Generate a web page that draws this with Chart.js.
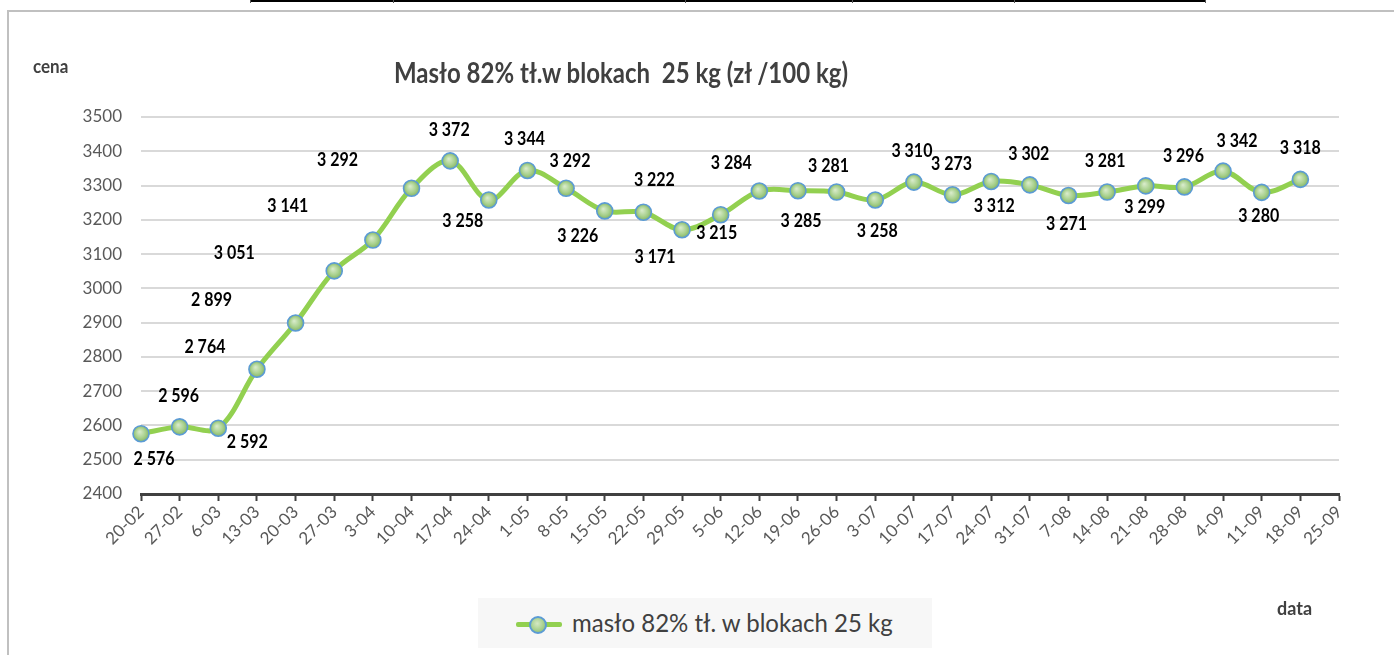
<!DOCTYPE html>
<html>
<head>
<meta charset="utf-8">
<script src="https://cdn.jsdelivr.net/npm/chart.js@4.4.0/dist/chart.umd.min.js"></script>
<style>
  html, body { margin:0; padding:0; background:#fff; }
  body { width:1394px; height:655px; position:relative; overflow:hidden; font-family: Lato, "Liberation Sans", sans-serif; }
  #wrap { position:absolute; left:0; top:0; width:1394px; height:655px; }
  .frame { position:absolute; left:7px; top:10px; width:1400px; height:700px; border-top:2px solid #c0c0c0; border-left:2px solid #c0c0c0; }
  .tline { position:absolute; top:0; height:2px; background:#000; }
  .tsep { position:absolute; top:0; width:1px; height:3px; background:#555; }
  #title { position:absolute; left:0; width:1242px; top:57px; text-align:center; font-weight:700; font-size:24px; color:#404040; white-space:pre; transform:scaleY(1.18); transform-origin:50% 50%; }
  #ylab { position:absolute; left:33px; top:55px; font-weight:700; font-size:17px; color:#404040; transform:scaleY(1.1); }
  #xlab { position:absolute; left:1277px; top:596px; font-weight:700; font-size:18px; color:#404040; transform:scaleY(1.1); }
  #legend { position:absolute; left:478px; top:598px; width:454px; height:50px; background:#f7f7f7; }
  #legend .ln { position:absolute; left:38px; top:24px; width:46px; height:5px; background:#92d050; border-radius:2px; }
  #legend .mk { position:absolute; left:51px; top:18px; width:14px; height:14px; border-radius:50%; border:2px solid #5b9bd5; background: radial-gradient(circle at 45% 40%, #d4e8c4 0%, #a9d18e 55%, #86b666 100%); }
  #legend .tx { position:absolute; left:94px; top:9px; font-size:24px; color:#404040; white-space:nowrap; transform:scaleY(1.08); transform-origin:0 50%; }
  canvas { position:absolute; left:0; top:0; }
</style>
</head>
<body>
<div id="wrap">
  <div class="frame"></div>
  <div class="tline" style="left:250px;width:955px"></div>
  <div class="tsep" style="left:250px"></div>
  <div class="tsep" style="left:393px"></div>
  <div class="tsep" style="left:685px"></div>
  <div class="tsep" style="left:852px"></div>
  <div class="tsep" style="left:1014px"></div>
  <div class="tsep" style="left:1205px"></div>
  <canvas id="c" width="1394" height="655"></canvas>
  <div id="title">Masło 82% tł.w blokach  25 kg (zł /100 kg)</div>
  <div id="ylab">cena</div>
  <div id="xlab">data</div>
  <div id="legend"><div class="ln"></div><div class="mk"></div><div class="tx">masło 82% tł. w blokach 25 kg</div></div>
</div>
<script>
// ---- data ----
const categories = ["20-02","27-02","6-03","13-03","20-03","27-03","3-04","10-04","17-04","24-04","1-05","8-05","15-05","22-05","29-05","5-06","12-06","19-06","26-06","3-07","10-07","17-07","24-07","31-07","7-08","14-08","21-08","28-08","4-09","11-09","18-09","25-09"];
const prices = [2576,2596,2592,2764,2899,3051,3141,3292,3372,3258,3344,3292,3226,3222,3171,3215,3284,3285,3281,3258,3310,3273,3312,3302,3271,3281,3299,3296,3342,3280,3318];
const seriesName = "masło 82% tł. w blokach 25 kg";
const yTicks = [2400,2500,2600,2700,2800,2900,3000,3100,3200,3300,3400,3500];
// label placement relative to each point (dx, dy in px)
const labelOffsets = [[13,25],[-1,-31],[29,14],[-52,-22],[-84,-23],[-100,-18],[-85,-34],[-74,-28],[-1,-31],[-26,21],[-3,-31],[4,-27],[-27,25],[11,-32],[-27,27],[-4,18],[-28,-28],[3,30],[-8,-26],[2,31],[-2,-31],[-1,-31],[3,25],[-1,-31],[-2,29],[-2,-31],[-1,21],[-1,-31],[14,-30],[-3,24],[0,-31]];

function fmt(v){ const s=String(v); return s.length>3 ? s.slice(0,s.length-3)+' '+s.slice(-3) : s; }

const labelPlugin = {
  id:'pointLabels',
  afterDatasetsDraw(chart){
    const ctx = chart.ctx;
    const meta = chart.getDatasetMeta(0);
    meta.data.forEach((el,i)=>{
      const o = labelOffsets[i] || [0,-25];
      ctx.save();
      ctx.font = 'bold 16px Lato, "Liberation Sans", sans-serif';
      ctx.fillStyle = '#000';
      ctx.textAlign = 'center';
      ctx.textBaseline = 'middle';
      ctx.translate(el.x + o[0], el.y + o[1]);
      ctx.scale(1, 1.15);
      ctx.fillText(fmt(prices[i]), 0, 0);
      ctx.restore();
    });
  }
};

function pointFill(context){
  const chart = context.chart;
  const xs = chart.scales.x, ys = chart.scales.y;
  if (!xs || !ys || context.dataIndex === undefined) return '#a9d18e';
  const v = prices[context.dataIndex];
  const x = xs.getPixelForValue(context.dataIndex);
  const y = ys.getPixelForValue(v);
  if (!isFinite(x) || !isFinite(y)) return '#a9d18e';
  const g = chart.ctx.createRadialGradient(x-1.5, y-2, 0.5, x, y, 8);
  g.addColorStop(0, '#d6eac8');
  g.addColorStop(0.6, '#a9d18e');
  g.addColorStop(1, '#86b666');
  return g;
}

new Chart(document.getElementById('c'), {
  type:'line',
  data:{
    labels: categories,
    datasets:[{
      label: seriesName,
      data: prices,
      borderColor:'#92d050',
      borderWidth:5,
      tension:0.35,
      clip:false,
      pointRadius:8,
      pointHoverRadius:8,
      pointBorderColor:'#5b9bd5',
      pointBorderWidth:1.6,
      pointBackgroundColor: pointFill
    }]
  },
  options:{
    responsive:false,
    animation:false,
    events:[],
    layout:{ padding:{ top:117, right:55, left:0, bottom:0 }, autoPadding:false },
    plugins:{ legend:{display:false}, title:{display:false}, tooltip:{enabled:false} },
    scales:{
      x:{
        offset:false,
        grid:{ drawOnChartArea:false, drawTicks:true, tickLength:7, tickColor:'#404040', tickWidth:2 },
        border:{ display:true, color:'#404040', width:3 },
        ticks:{ autoSkip:false, maxRotation:45, minRotation:45, color:'#595959', padding:1,
                font:{ family:'Lato, "Liberation Sans", sans-serif', size:17 } },
        afterFit(s){ s.height = 161; }
      },
      y:{
        min:2400, max:3500,
        afterBuildTicks(s){ s.ticks = yTicks.map(v=>({value:v})); },
        grid:{ color:'#d9d9d9', lineWidth:2, drawTicks:false },
        border:{ display:false },
        ticks:{ color:'#595959', padding:19, callback:(v)=>String(v),
                font:{ family:'Lato, "Liberation Sans", sans-serif', size:17 } },
        afterFit(s){ s.width = 141; }
      }
    }
  },
  plugins:[labelPlugin]
});
</script>
</body>
</html>
